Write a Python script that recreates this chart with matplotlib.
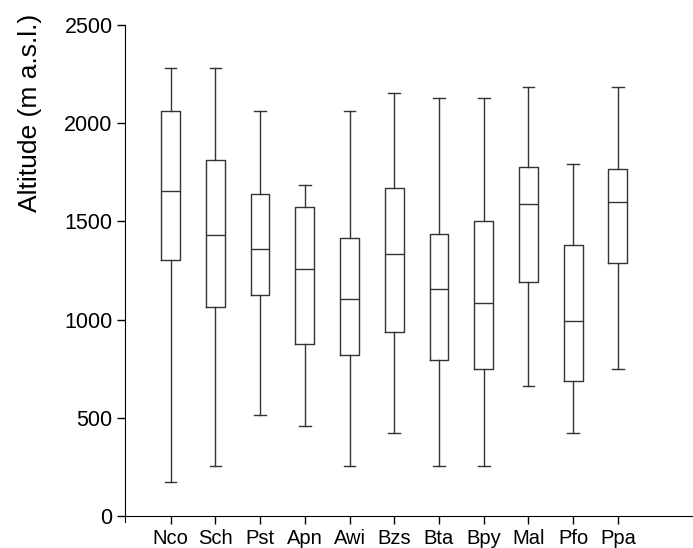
import matplotlib
matplotlib.use("Agg")
import matplotlib.pyplot as plt

plt.rcParams['font.family'] = ['Liberation Sans', 'DejaVu Sans']

categories = ["Nco", "Sch", "Pst", "Apn", "Awi", "Bzs", "Bta", "Bpy", "Mal", "Pfo", "Ppa"]
whisker_low = [172, 255, 512, 458, 255, 422, 255, 255, 662, 422, 746]
q1 =          [1306, 1065, 1126, 878, 820, 937, 796, 750, 1192, 685, 1289]
median =      [1653, 1430, 1361, 1259, 1104, 1333, 1156, 1087, 1590, 993, 1599]
q3 =          [2060, 1813, 1641, 1575, 1418, 1672, 1434, 1500, 1779, 1379, 1765]
whisker_high = [2279, 2282, 2060, 1687, 2060, 2156, 2129, 2129, 2184, 1794, 2184]
yticks = [0, 500, 1000, 1500, 2000, 2500]

stats = []
for i, c in enumerate(categories):
    stats.append(dict(label=c, whislo=whisker_low[i], q1=q1[i], med=median[i],
                      q3=q3[i], whishi=whisker_high[i], fliers=[]))

fig = plt.figure(figsize=(6.93, 5.48), dpi=100)
ax = fig.add_axes([125/693, 1-516/548, 1-125/693, (516-25)/548])

lc = '#333333'
lw = 1.0
positions = list(range(1, len(categories) + 1))
ax.bxp(stats, positions=positions, widths=0.42, showfliers=False,
       boxprops=dict(color=lc, linewidth=lw),
       medianprops=dict(color=lc, linewidth=lw),
       whiskerprops=dict(color=lc, linewidth=lw),
       capprops=dict(color=lc, linewidth=lw),
       capwidths=0.26)

ax.set_xlim(-0.02, 12.68)
ax.set_ylim(0, 2500)
ax.set_yticks(yticks)
ax.set_yticklabels([str(v) for v in yticks])
ax.set_xticks(positions)
ax.set_xticklabels(categories)
ax.spines['top'].set_visible(False)
ax.spines['right'].set_visible(False)
ax.spines['left'].set_bounds(-30, 2500)
ax.tick_params(axis='both', direction='out', length=6, width=1, color='black')
ax.tick_params(axis='y', pad=3, labelsize=15.5)
ax.tick_params(axis='x', pad=3, labelsize=14.5)
ax.set_ylabel("Altitude (m a.s.l.)", fontsize=19)
ax.yaxis.set_label_coords(-0.146, 0.822)

fig.savefig("out.png", dpi=100)
